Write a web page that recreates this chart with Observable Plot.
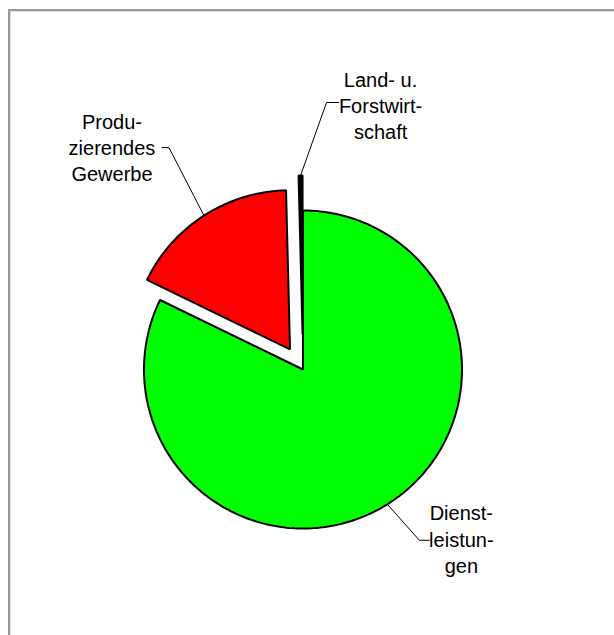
<!DOCTYPE html>
<html><head><meta charset="utf-8">
<script src="https://cdn.jsdelivr.net/npm/d3@7"></script>
<script src="https://cdn.jsdelivr.net/npm/@observablehq/plot@0.6"></script>
<style>
html,body{margin:0;padding:0;background:#fff;overflow:hidden;width:614px;height:635px;}
#chart{position:absolute;left:0;top:0;}
#frame{position:absolute;left:8px;top:9px;width:800px;height:800px;border-top:2px solid #999;border-left:2px solid #999;box-shadow:inset 1px 1px 0 #ddd;pointer-events:none;}
</style></head><body>
<div id="chart"></div><div id="frame"></div>
<script>
// ---- data ----
const categories = ["Dienstleistungen", "Produzierendes Gewerbe", "Land- u. Forstwirtschaft"];
const labels = ["Dienst-\nleistun-\ngen", "Produ-\nzierendes\nGewerbe", "Land- u.\nForstwirt-\nschaft"];
const shares = [82.2, 17.4, 0.4];
const colors = ["#00ff00", "#ff0000", "#000000"];

// ---- layout (pixels) ----
const W = 614, H = 635, CX = 302.5, CY = 369, R = 159;
const explodePx = [0, 24, 35];
// leader geometry relative to the slice's outer-arc midpoint: elbow, end of horizontal, label centre
const leaderLayout = [
  {elbow: [32, 36], end: [42, 36], label: [74, 34]},
  {elbow: [-35, -68], end: [-42, -68], label: [-92, -69]},
  {elbow: [26, -73], end: [38, -73], label: [80, -71]}
];

const total = d3.sum(shares);
let acc = 0;
const slices = categories.map((c, i) => {
  const a0 = acc / total * 2 * Math.PI;
  acc += shares[i];
  const a1 = acc / total * 2 * Math.PI;
  const m = (a0 + a1) / 2;
  const ox = explodePx[i] / R * Math.sin(m), oy = explodePx[i] / R * Math.cos(m);
  const n = Math.max(2, Math.ceil((a1 - a0) * 180 / Math.PI));
  const pts = [{x: ox, y: oy}];
  for (let k = 0; k <= n; k++) {
    const a = a0 + (a1 - a0) * k / n;
    pts.push({x: ox + Math.sin(a), y: oy + Math.cos(a)});
  }
  const ax = ox + Math.sin(m), ay = oy + Math.cos(m);
  const L = leaderLayout[i];
  const p = ([dx, dy]) => ({x: ax + dx / R, y: ay - dy / R});
  const leader = [{x: ax, y: ay}, p(L.elbow), p(L.end)];
  const lab = p(L.label);
  return {cat: c, color: colors[i], pts, leader, label: {x: lab.x, y: lab.y, text: labels[i]}};
});

const marks = [];
slices.forEach(s => marks.push(Plot.line(s.pts, {x: "x", y: "y", fill: s.color, stroke: "#000", strokeWidth: 2, strokeLinejoin: "miter", curve: "linear-closed"})));
slices.forEach(s => marks.push(Plot.line(s.leader, {x: "x", y: "y", stroke: "#000", strokeWidth: 1})));
marks.push(Plot.text(slices.map(s => s.label), {x: "x", y: "y", text: "text", fontSize: 20, lineHeight: 1.32, fill: "#000", textAnchor: "middle"}));

const chart = Plot.plot({
  width: W, height: H, margin: 0,
  x: {domain: [-CX / R, (W - CX) / R], axis: null},
  y: {domain: [-(H - CY) / R, CY / R], axis: null},
  style: {fontFamily: "Liberation Sans, Arial, sans-serif", background: "transparent"},
  marks
});
document.getElementById("chart").appendChild(chart);
</script>
</body></html>
